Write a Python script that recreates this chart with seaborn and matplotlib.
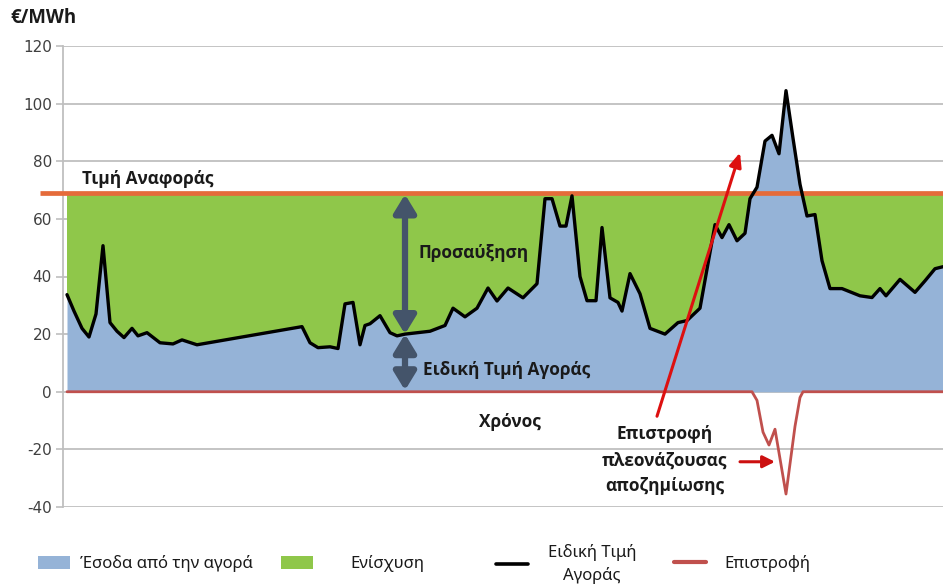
import numpy as np
import matplotlib
matplotlib.use("Agg")
import matplotlib.pyplot as plt
import matplotlib.patches as mpatches
from matplotlib.lines import Line2D
import seaborn as sns

# ---------------- data ----------------
time_price = [4, 11, 19, 26, 33, 40, 47, 54, 61, 69, 75, 84, 97, 110, 119, 134,
              239, 247, 255, 267, 275, 282, 290, 297, 302, 307, 317, 327, 334, 342,
              367, 382, 390, 402, 414, 425, 434, 445, 460, 474,
              482, 489, 497, 503, 509, 517, 524, 533, 539, 547, 555, 559,
              567, 577, 587, 602, 615, 624, 637,
              652, 659, 666, 674, 682, 687, 694, 702, 709, 716, 723, 730, 737,
              744, 752, 759, 767, 779, 797, 809, 817, 823, 837, 852, 862, 872, 880]
price = [33.7, 28.0, 22.0, 19.0, 27.0, 50.7, 24.0, 21.0, 18.8, 22.0, 19.4, 20.5, 17.0, 16.6, 18.0, 16.3,
         22.6, 17.0, 15.3, 15.6, 15.0, 30.5, 31.0, 16.3, 23.0, 23.6, 26.4, 20.5, 19.4, 20.0,
         21.0, 23.0, 29.0, 26.0, 29.0, 36.0, 31.5, 36.0, 32.6, 37.5,
         67.0, 67.0, 57.5, 57.5, 68.0, 40.0, 31.6, 31.6, 57.0, 32.6, 31.0, 28.0,
         41.0, 34.0, 22.0, 20.0, 24.0, 24.7, 29.0,
         58.0, 53.5, 58.0, 52.4, 55.0, 67.0, 71.0, 87.0, 89.0, 82.6, 104.5, 88.0, 72.0,
         61.0, 61.5, 45.5, 35.8, 35.8, 33.3, 32.7, 35.8, 33.3, 39.0, 34.5, 38.5, 42.7, 43.4]

reference_price = 69.0

time_return = [4, 689, 694, 700, 706, 712, 723, 732, 737, 740, 880]
return_value = [0, 0, -3, -14, -18.5, -13, -35.5, -12, -2, 0, 0]

yticks = [-40, -20, 0, 20, 40, 60, 80, 100, 120]
legend_labels = ["Έσοδα από την αγορά", "Ενίσχυση", "Ειδική Τιμή\nΑγοράς", "Επιστροφή"]

# ---------------- style ----------------
sns.set_theme(style="white")
plt.rcParams["font.family"] = ["Noto Sans", "DejaVu Sans"]

BLUE = "#95B3D7"
GREEN = "#8FC74A"
ORANGE = "#E56B3A"
DARKRED = "#C0504D"
ARROW = "#44546A"
GRID = "#BFBFBF"
BOLDFAM = ["Open Sans", "DejaVu Sans"]

fig = plt.figure(figsize=(9.43, 5.84), dpi=100)
ax = fig.add_axes([63 / 943, 1 - 507 / 584, 880 / 943, 461 / 584])

t = np.array(time_price, dtype=float)
p = np.array(price, dtype=float)

ax.set_xlim(0, 880)
ax.set_ylim(-40, 120)

# grid
for yv in yticks:
    ax.axhline(yv, color=GRID, lw=1.3, zorder=0)

# fills
ax.fill_between(t, p, reference_price, where=p <= reference_price, interpolate=True,
                color=GREEN, lw=0, zorder=1)
ax.fill_between(t, 0, p, color=BLUE, lw=0, zorder=2)

# reference line (extends slightly left of the axis)
ax.plot([-23, 880], [reference_price, reference_price], color=ORANGE, lw=3.4,
        zorder=4, clip_on=False, solid_capstyle="butt")

# market price line
sns.lineplot(x=t, y=p, color="black", lw=2.4, ax=ax, estimator=None, sort=False,
             zorder=5, legend=False)
# return line
sns.lineplot(x=np.array(time_return, float), y=np.array(return_value, float),
             color=DARKRED, lw=2.0, ax=ax, estimator=None, sort=False, zorder=5,
             legend=False)

# axes styling
for s in ["top", "right", "bottom"]:
    ax.spines[s].set_visible(False)
ax.spines["left"].set_color(GRID)
ax.spines["left"].set_linewidth(1.3)
ax.set_xticks([])
ax.set_yticks(yticks)
ax.set_yticklabels([str(v) for v in yticks], family=["Liberation Sans Narrow", "DejaVu Sans"],
                   fontsize=11, color="#404040")
ax.tick_params(axis="y", length=5, width=1.2, color=GRID, pad=3, left=True)
ax.set_xlabel("")
ax.set_ylabel("")
ax.grid(False)

# double arrows
ax.annotate("", xy=(342, 68.5), xytext=(342, 20), zorder=6,
            arrowprops=dict(arrowstyle="<|-|>,head_length=0.9,head_width=0.55",
                            lw=4.5, color=ARROW, shrinkA=0, shrinkB=0))
ax.annotate("", xy=(342, 20), xytext=(342, 0.5), zorder=6,
            arrowprops=dict(arrowstyle="<|-|>,head_length=0.9,head_width=0.55",
                            lw=4.5, color=ARROW, shrinkA=0, shrinkB=0))

# red arrows
ax.annotate("", xy=(677, 83), xytext=(594, -8.5), zorder=7, annotation_clip=False,
            arrowprops=dict(arrowstyle="-|>,head_length=0.7,head_width=0.3",
                            lw=2.2, color="#DD1010", shrinkA=0, shrinkB=0))
ax.annotate("", xy=(712, -24.3), xytext=(677, -24.3), zorder=7,
            arrowprops=dict(arrowstyle="-|>,head_length=0.6,head_width=0.3",
                            lw=2.2, color="#CC1010", shrinkA=0, shrinkB=0))

# texts
bold = dict(fontweight="bold", color="#1A1A1A", fontsize=12.4, family=BOLDFAM)
ax.text(19, 74, "Τιμή Αναφοράς", ha="left", va="center", zorder=8, **bold)
ax.text(355, 48, "Προσαύξηση", ha="left", va="center", zorder=8, **bold)
ax.text(360, 7.6, "Ειδική Τιμή Αγοράς", ha="left", va="center", zorder=8, **bold)
ax.text(447, -10.4, "Χρόνος", ha="center", va="center", zorder=8, **bold)
ax.text(602, -14.6, "Επιστροφή", ha="center", va="center", zorder=8, **bold)
ax.text(602, -23.9, "πλεονάζουσας", ha="center", va="center", zorder=8, **bold)
ax.text(602, -32.6, "αποζημίωσης", ha="center", va="center", zorder=8, **bold)

fig.text(10 / 943, 1 - 18 / 584, "€/MWh", ha="left", va="center", fontweight="bold",
         fontsize=13.4, color="#1A1A1A", family=BOLDFAM)

# legend (four separate entries positioned like the original)
handles = [
    mpatches.Patch(color=BLUE, lw=0),
    mpatches.Patch(color=GREEN, lw=0),
    Line2D([], [], color="black", lw=2.6),
    Line2D([], [], color=DARKRED, lw=3),
]
positions = [(38, 10), (281, 38), (496, 20), (674, 19)]
ly = 1 - 564 / 584
for h, lab, (xp, gap) in zip(handles, legend_labels, positions):
    leg = fig.legend(handles=[h], labels=[lab], loc="center left",
                     bbox_to_anchor=(xp / 943, ly), frameon=False, fontsize=12,
                     handlelength=1.9, handleheight=0.85,
                     handletextpad=gap / 16.7, borderpad=0, borderaxespad=0)
    for txt in leg.get_texts():
        txt.set_color("#1A1A1A")
        txt.set_multialignment("center")
        txt.set_linespacing(1.45)

fig.savefig("out.png", dpi=100)
